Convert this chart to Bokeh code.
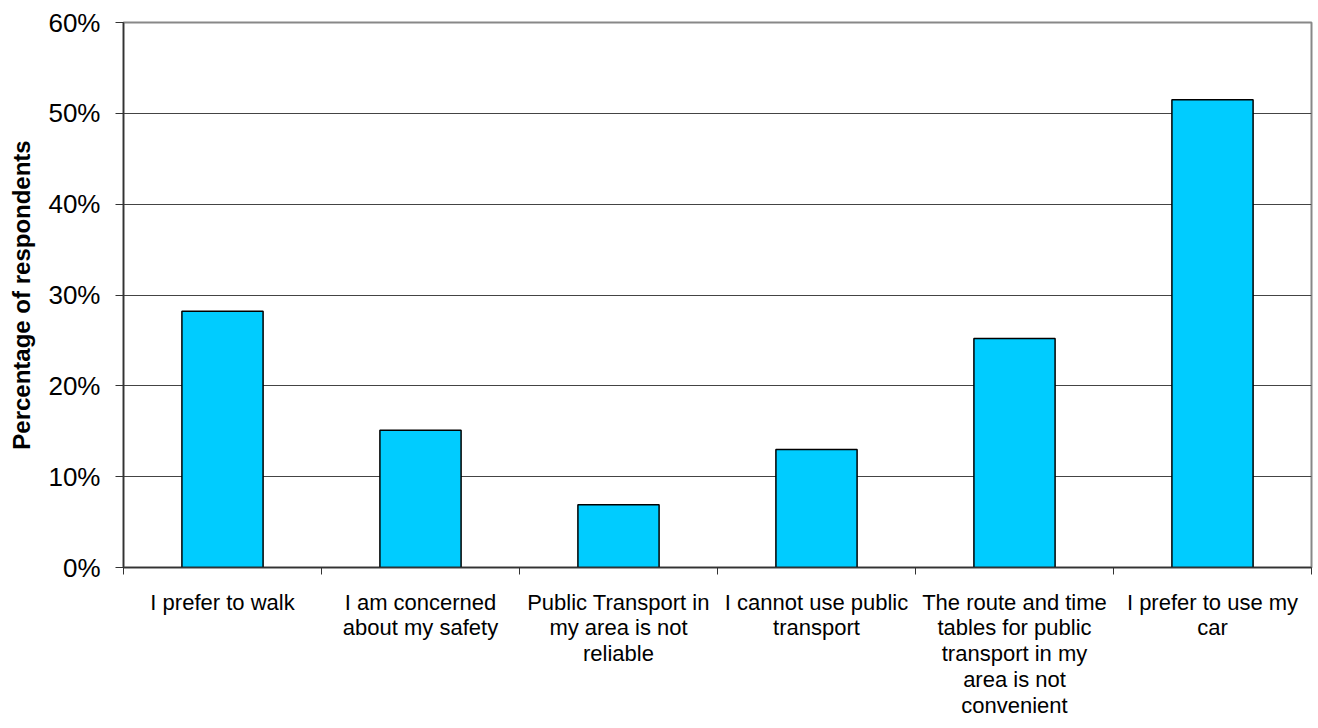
from bokeh.plotting import figure
from bokeh.models import FixedTicker, ColumnDataSource
from bokeh.embed import file_html
from bokeh.resources import INLINE

categories = [
    "I prefer to walk",
    "I am concerned\nabout my safety",
    "Public Transport in\nmy area is not\nreliable",
    "I cannot use public\ntransport",
    "The route and time\ntables for public\ntransport in my\narea is not\nconvenient",
    "I prefer to use my\ncar",
]
values = [28.2, 15.1, 6.9, 13.0, 25.2, 51.5]
y_ticks = [0, 10, 20, 30, 40, 50, 60]
y_tick_labels = ["0%", "10%", "20%", "30%", "40%", "50%", "60%"]

n = len(categories)
centers = [i + 0.5 for i in range(n)]
source = ColumnDataSource(dict(x=centers, top=values))

p = figure(width=1318, height=728, output_backend="svg", toolbar_location=None,
           x_range=(0, n), y_range=(0, 60),
           min_border_left=123, min_border_right=7, min_border_top=22, min_border_bottom=161)

p.vbar(x="x", top="top", width=0.41, bottom=0, source=source,
       fill_color="#00CCFF", line_color="#000000", line_width=1.5)

# x axis: labels at centers, tick marks at boundaries
p.xaxis.ticker = FixedTicker(ticks=centers, minor_ticks=list(range(n + 1)))
p.xaxis.major_label_overrides = {c: lab for c, lab in zip(centers, categories)}
p.xaxis.major_tick_out = 0
p.xaxis.major_tick_in = 0
p.xaxis.minor_tick_out = 7
p.xaxis.minor_tick_in = 0
p.xaxis.minor_tick_line_color = "#333333"
p.xaxis.major_label_standoff = 15
p.xaxis.major_label_text_font = "Liberation Sans"
p.xaxis.major_label_text_font_size = "22px"
p.xaxis.major_label_text_color = "#000000"
p.xaxis.major_label_text_line_height = 1.03
p.xaxis.axis_line_color = "#333333"
p.xaxis.axis_line_width = 1.5

# y axis
p.yaxis.ticker = FixedTicker(ticks=y_ticks, minor_ticks=[])
p.yaxis.major_label_overrides = {t: lab for t, lab in zip(y_ticks, y_tick_labels)}
p.yaxis.major_tick_out = 8
p.yaxis.major_tick_in = 0
p.yaxis.major_tick_line_color = "#333333"
p.yaxis.major_label_standoff = 15
p.yaxis.major_label_text_font = "Liberation Sans"
p.yaxis.major_label_text_font_size = "26px"
p.yaxis.major_label_text_color = "#000000"
p.yaxis.axis_line_color = "#333333"
p.yaxis.axis_line_width = 1.5
p.yaxis.axis_label = "Percentage of respondents"
p.yaxis.axis_label_text_font = "Liberation Sans"
p.yaxis.axis_label_text_font_style = "bold"
p.yaxis.axis_label_text_font_size = "24px"
p.yaxis.axis_label_text_color = "#000000"
p.yaxis.axis_label_standoff = 10

p.xgrid.grid_line_color = None
p.ygrid.ticker = FixedTicker(ticks=y_ticks)
p.ygrid.grid_line_color = "#444444"
p.ygrid.grid_line_width = 1.2

p.outline_line_color = "#888888"
p.outline_line_width = 2
p.background_fill_color = "white"
p.border_fill_color = "white"

open("out.html", "w").write(file_html(p, INLINE))
